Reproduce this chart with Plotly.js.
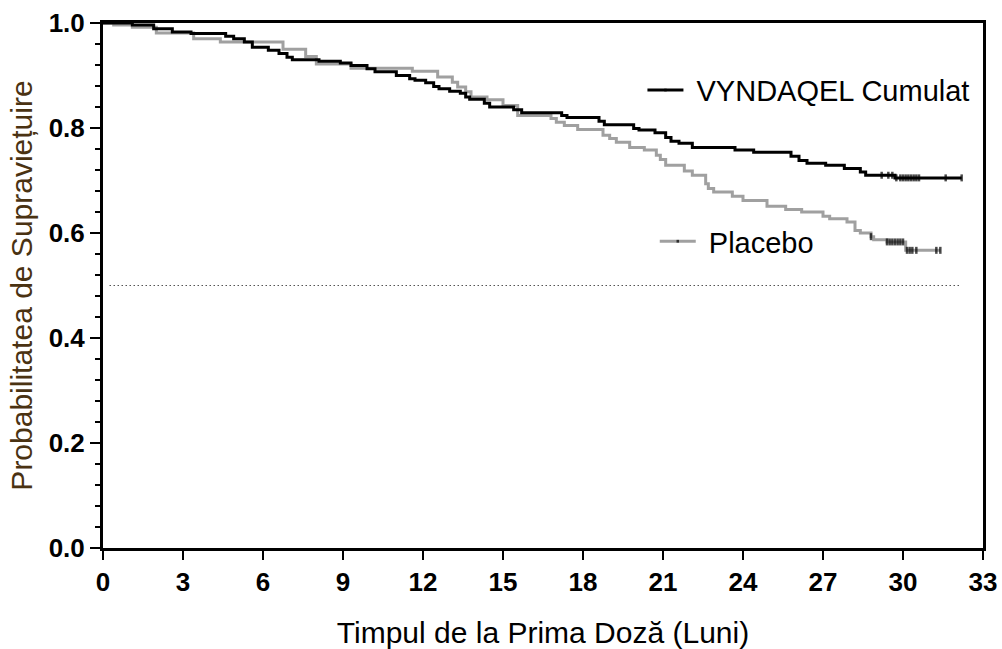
<!DOCTYPE html>
<html>
<head>
<meta charset="utf-8">
<script src="https://cdn.plot.ly/plotly-3.0.1.min.js"></script>
<style>
  html, body { margin: 0; padding: 0; background: #ffffff; }
  #chart { width: 1002px; height: 649px; }
</style>
</head>
<body>
<div id="chart"></div>
<script>
// ---- Data (months, survival probability) ----
const vyndaqelTime = [0, 1.1, 1.9, 2.6, 3.3, 4.6, 4.9, 5.3, 5.6, 6.2, 6.6, 6.9, 7.1, 8.1, 8.9, 9.3, 9.9, 10.2, 11.0, 11.5, 11.7, 12.1, 12.4, 12.6, 13.0, 13.4, 13.6, 13.75, 14.3, 14.5, 15.4, 15.7, 17.2, 17.4, 18.6, 18.8, 19.9, 20.1, 20.7, 21.1, 21.3, 21.6, 22.1, 23.7, 24.4, 25.8, 26.1, 26.4, 27.1, 27.8, 28.4, 28.6, 29.7, 32.2];
const vyndaqelSurv = [1.0, 0.996, 0.989, 0.983, 0.980, 0.975, 0.970, 0.964, 0.954, 0.948, 0.942, 0.935, 0.930, 0.927, 0.924, 0.919, 0.913, 0.907, 0.900, 0.894, 0.891, 0.886, 0.879, 0.875, 0.870, 0.866, 0.859, 0.855, 0.847, 0.840, 0.835, 0.829, 0.824, 0.820, 0.813, 0.806, 0.799, 0.796, 0.791, 0.782, 0.775, 0.771, 0.763, 0.758, 0.754, 0.746, 0.738, 0.733, 0.729, 0.723, 0.716, 0.710, 0.705, 0.705];
const vyndaqelCensored = [29.2, 29.45, 29.6, 29.75, 29.9, 30.0, 30.1, 30.2, 30.3, 30.4, 30.5, 30.6, 31.6, 32.2];

const placeboTime = [0, 0.4, 1.1, 2.0, 3.4, 4.4, 6.75, 7.6, 8.0, 9.3, 11.6, 12.55, 13.1, 13.3, 13.6, 13.8, 14.4, 15.0, 15.55, 16.8, 17.0, 17.3, 17.8, 18.75, 19.0, 19.25, 19.75, 20.3, 20.75, 20.9, 21.1, 21.8, 22.1, 22.6, 22.7, 22.9, 23.6, 24.0, 24.9, 25.6, 26.2, 27.0, 27.25, 27.9, 28.2, 28.4, 28.8, 28.9, 29.4, 30.1, 31.4];
const placeboSurv = [1.0, 0.996, 0.992, 0.981, 0.970, 0.964, 0.950, 0.936, 0.922, 0.914, 0.908, 0.897, 0.887, 0.878, 0.869, 0.859, 0.854, 0.843, 0.824, 0.818, 0.811, 0.805, 0.797, 0.786, 0.780, 0.773, 0.763, 0.758, 0.748, 0.740, 0.729, 0.718, 0.710, 0.694, 0.685, 0.678, 0.670, 0.662, 0.651, 0.645, 0.640, 0.632, 0.627, 0.621, 0.605, 0.600, 0.593, 0.587, 0.583, 0.567, 0.567];
const placeboCensored = [28.8, 29.4, 29.5, 29.6, 29.7, 29.8, 29.9, 30.0, 30.15, 30.25, 30.35, 30.5, 31.25, 31.4];

const seriesNames = ["VYNDAQEL Cumulat", "Placebo"];
const referenceLineTime = [0.25, 32.2];
const referenceLineValue = [0.5, 0.5];

const xTickValues = [0, 3, 6, 9, 12, 15, 18, 21, 24, 27, 30, 33];
const yTickValues = [0.0, 0.2, 0.4, 0.6, 0.8, 1.0];
const yTickLabels = ["0.0", "0.2", "0.4", "0.6", "0.8", "1.0"];

// ---- Helpers ----
function survAt(times, surv, t) {
  let v = surv[0];
  for (let i = 0; i < times.length; i++) { if (times[i] <= t) v = surv[i]; }
  return v;
}
function buildKM(times, surv, cens) {
  const pts = [];
  times.forEach((t, i) => pts.push({x: t, y: surv[i], s: 0}));
  cens.forEach(t => pts.push({x: t, y: survAt(times, surv, t), s: 5}));
  pts.sort((a, b) => a.x - b.x || a.s - b.s);
  return {x: pts.map(p => p.x), y: pts.map(p => p.y), s: pts.map(p => p.s)};
}

const km1 = buildKM(vyndaqelTime, vyndaqelSurv, vyndaqelCensored);
const km2 = buildKM(placeboTime, placeboSurv, placeboCensored);

const FONT = "Arial, 'Liberation Sans', Helvetica, sans-serif";
const NB = "\u00a0";

const traces = [
  {
    x: referenceLineTime, y: referenceLineValue, type: 'scatter', mode: 'lines',
    line: {color: '#000000', width: 1.2, dash: '1px,3px'}, showlegend: false, hoverinfo: 'skip'
  },
  {
    x: km2.x, y: km2.y, type: 'scatter', mode: 'lines+markers', name: NB + seriesNames[1],
    legend: 'legend2',
    line: {color: '#a0a0a0', width: 3, shape: 'hv'},
    marker: {symbol: 'line-ns', size: km2.s, color: '#000000', line: {color: '#000000', width: 2.5}}
  },
  {
    x: km1.x, y: km1.y, type: 'scatter', mode: 'lines+markers', name: NB + seriesNames[0],
    legend: 'legend',
    line: {color: '#000000', width: 3, shape: 'hv'},
    marker: {symbol: 'line-ns', size: km1.s, color: '#000000', line: {color: '#000000', width: 2.5}}
  }
];

const layout = {
  width: 1002, height: 649,
  margin: {l: 103, r: 19, t: 23, b: 101, pad: 0},
  paper_bgcolor: '#ffffff', plot_bgcolor: '#ffffff',
  font: {family: FONT, color: '#000000'},
  showlegend: true,
  legend: {
    x: 0.613, xanchor: 'left', y: 0.872, yanchor: 'middle',
    bgcolor: 'rgba(0,0,0,0)', font: {family: FONT, size: 29, color: '#000000'},
    itemwidth: 36, tracegroupgap: 0
  },
  legend2: {
    x: 0.627, xanchor: 'left', y: 0.584, yanchor: 'middle',
    bgcolor: 'rgba(0,0,0,0)', font: {family: FONT, size: 29, color: '#000000'},
    itemwidth: 36, tracegroupgap: 0
  },
  xaxis: {
    range: [0, 33], autorange: false,
    tickmode: 'array', tickvals: xTickValues, ticktext: xTickValues.map(String),
    ticks: 'outside', ticklen: 9, tickwidth: 2.5, tickcolor: '#000000',
    showline: true, linecolor: '#000000', linewidth: 3, mirror: true,
    showgrid: false, zeroline: false,
    tickfont: {family: FONT, size: 26, color: '#000000', weight: 'bold'},
    title: {text: 'Timpul de la Prima Doză (Luni)', font: {family: FONT, size: 30, color: '#000000'}, standoff: 27}
  },
  yaxis: {
    range: [0, 1], autorange: false,
    tickmode: 'array', tickvals: yTickValues, ticktext: yTickLabels,
    ticks: 'outside', ticklen: 10, tickwidth: 2.5, tickcolor: '#000000',
    minor: {dtick: 0.04, ticks: 'outside', ticklen: 5, tickwidth: 2, tickcolor: '#000000', showgrid: false},
    showline: true, linecolor: '#000000', linewidth: 3, mirror: true,
    showgrid: false, zeroline: false,
    tickfont: {family: FONT, size: 26, color: '#000000', weight: 'bold'},
    title: {text: 'Probabilitatea de Supraviețuire', font: {family: FONT, size: 30, color: '#4a3212'}, standoff: 8}
  }
};

Plotly.newPlot('chart', traces, layout, {displayModeBar: false, staticPlot: true});
</script>
</body>
</html>
